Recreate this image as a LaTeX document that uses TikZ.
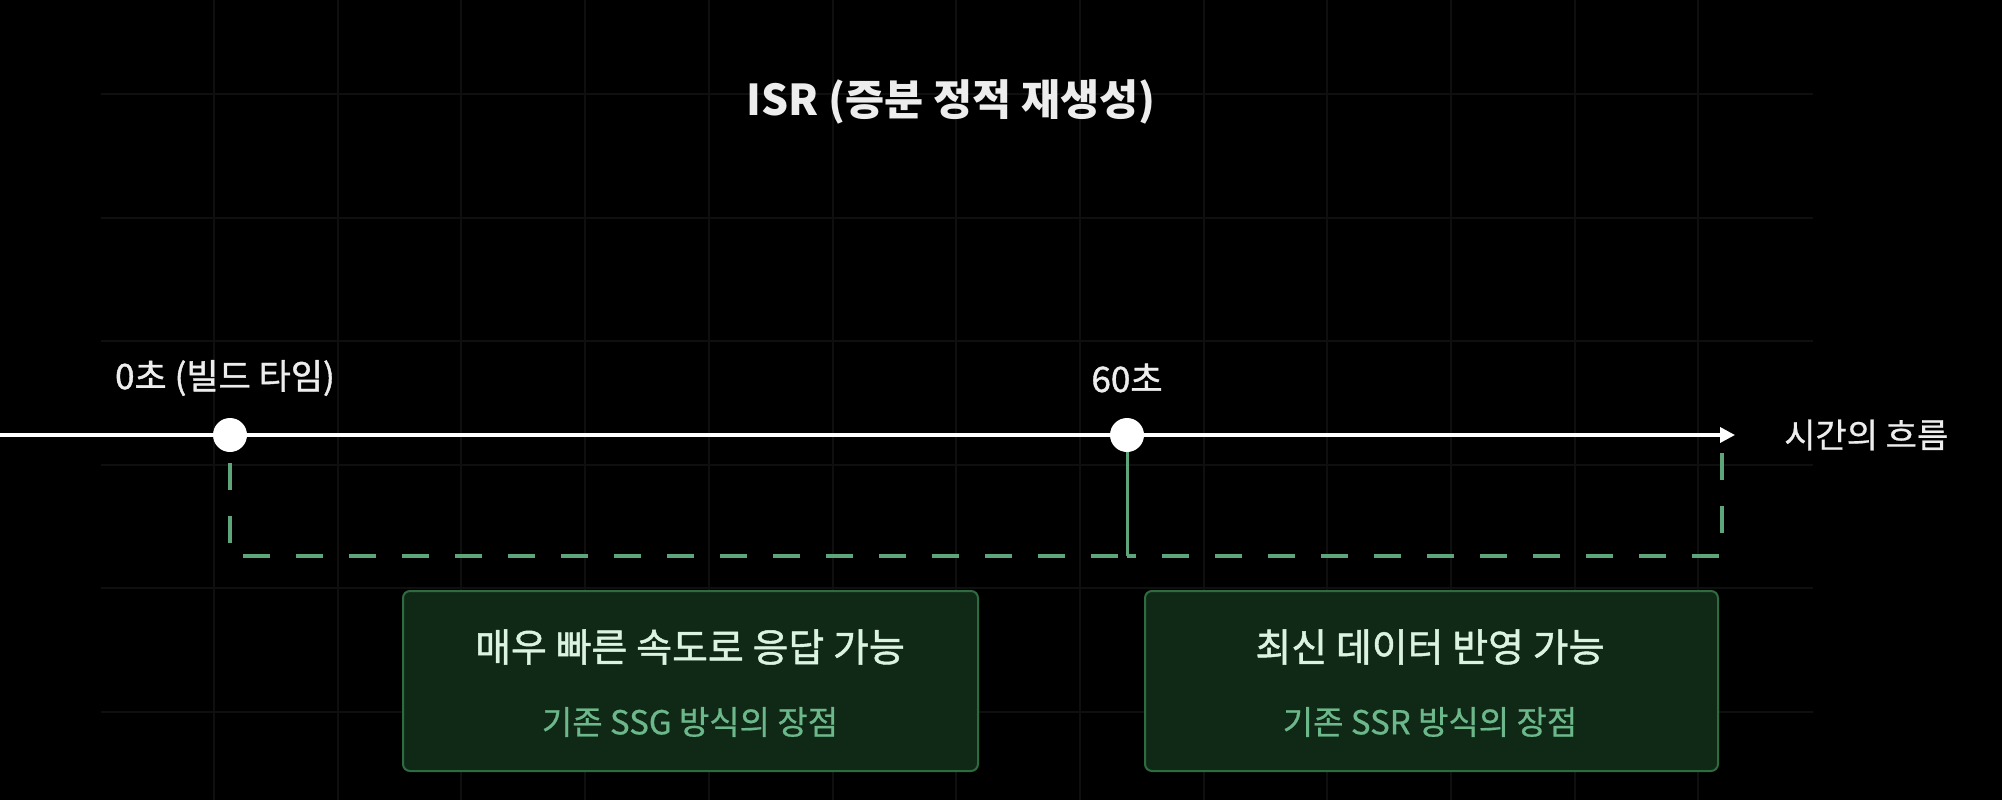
\documentclass[tikz,border=0pt]{standalone}
\usepackage{fontspec}
\newfontfamily\kr{Noto Sans CJK KR}
\newfontfamily\krm[FakeBold=1.2]{Noto Sans CJK KR}
\newfontfamily\krs[FakeBold=0.6]{Noto Sans CJK KR}
\usetikzlibrary{arrows.meta}
\definecolor{bg}{HTML}{000000}
\definecolor{gridc}{HTML}{0F0F0F}
\definecolor{gline}{HTML}{5FA57C}
\definecolor{boxfill}{HTML}{0F2916}
\definecolor{boxdraw}{HTML}{2F6B40}
\definecolor{boxtitlec}{HTML}{DDF3E2}
\definecolor{boxsubc}{HTML}{6DB88A}
\definecolor{labelc}{HTML}{EDEDED}
\tikzset{
  gridline/.style={draw=gridc, line width=2pt},
  timeline/.style={draw=white, line width=3.5pt, -{Triangle[length=15pt,width=15pt]}},
  dot/.style={circle, fill=white, minimum size=34pt, inner sep=0pt},
  titletext/.style={text=labelc, font=\kr\bfseries\fontsize{42.5}{50}\selectfont, inner sep=0pt},
  tlabel/.style={text=labelc, font=\krm\fontsize{35}{42}\selectfont, inner sep=0pt},
  flowtext/.style={text=labelc, font=\krs\fontsize{34}{40}\selectfont, inner sep=0pt},
  gdash/.style={draw=gline, line width=3.2pt, dash pattern=on 27pt off 26pt},
  gsolid/.style={draw=gline, line width=3pt},
  infobox/.style={draw=boxdraw, fill=boxfill, line width=2pt, rounded corners=7pt, minimum height=180pt, inner sep=0pt},
  boxtitle/.style={text=boxtitlec, font=\krm\fontsize{39}{46}\selectfont, inner sep=0pt},
  boxsub/.style={text=boxsubc, font=\krs\fontsize{33}{40}\selectfont, inner sep=0pt}
}
\begin{document}
\begin{tikzpicture}[x=1pt,y=-1pt]
\fill[bg] (0,0) rectangle (2002,800);
\useasboundingbox (0,0) rectangle (2002,800);
% grid
\foreach \y in {94,218,341,465,588,712} \draw[gridline] (101,\y) -- (1813,\y);
\foreach \i in {0,...,12} \draw[gridline] ({214+123.7*\i},0) -- ({214+123.7*\i},800);
% title
\node[titletext] (title) at (951,102) {ISR (증분 정적 재생성)};
% timeline
\coordinate (tl0) at (0,435);
\coordinate (tlend) at (1735,435);
\draw[timeline] (tl0) -- (tlend);
\node[dot] (c0) at (230,435) {};
\node[dot] (c60) at (1127,435) {};
\node[tlabel] (l0) at (225,378) {0초 (빌드 타임)};
\node[tlabel] (l60) at (1127,378) {60초};
\node[flowtext, anchor=west] (flow) at (1784,435) {시간의 흐름};
% green paths
\coordinate (hl) at (0,556);
\coordinate (rtop) at (1722,453);
\draw[gdash, shorten <=11pt] (c0.south) |- (c60 |- hl);
\draw[gsolid] (c60.south) -- (c60 |- hl);
\draw[gdash] (rtop) |- (c60 |- hl);
% boxes
\node[infobox, minimum width=575pt] (b1) at (690.5,681) {};
\node[boxtitle] (b1t) at (690,647) {매우 빠른 속도로 응답 가능};
\node[boxsub] (b1s) at (690,722) {기존 SSG 방식의 장점};
\node[infobox, minimum width=573pt] (b2) at (1431.5,681) {};
\node[boxtitle] (b2t) at (1430,647) {최신 데이터 반영 가능};
\node[boxsub] (b2s) at (1430,722) {기존 SSR 방식의 장점};
\end{tikzpicture}
\end{document}
